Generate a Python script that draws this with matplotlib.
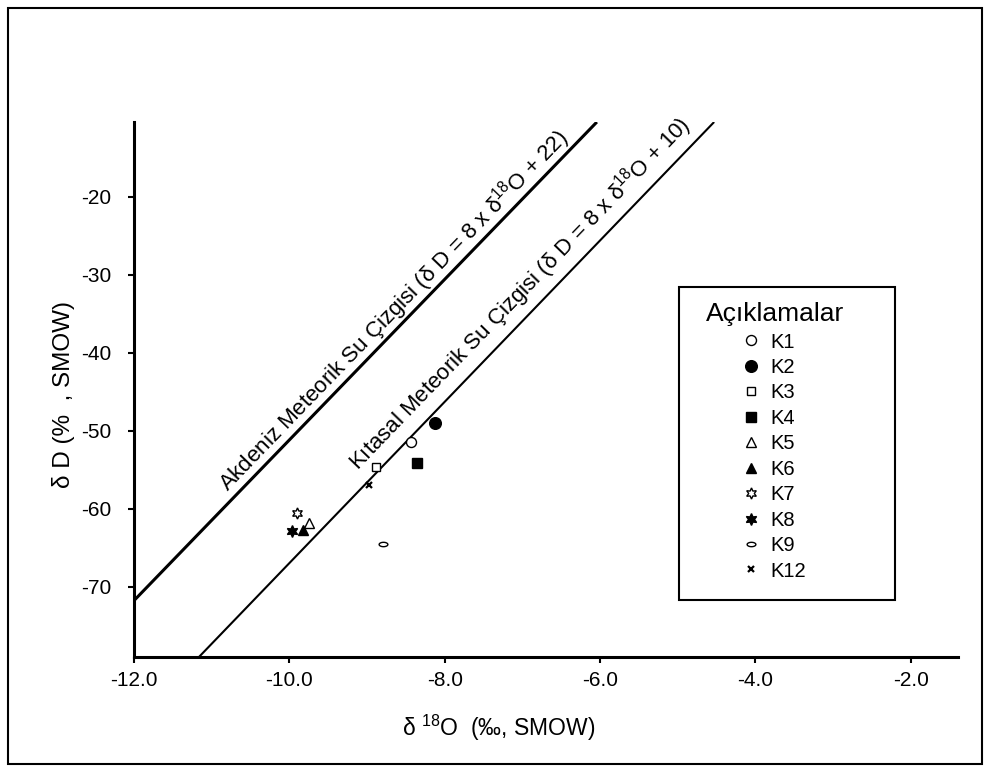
import numpy as np
import matplotlib
from matplotlib import pyplot as plt
from matplotlib.path import Path
from matplotlib.patches import Rectangle

matplotlib.use('Agg')

plt.rcParams['font.family'] = ['Liberation Sans', 'DejaVu Sans']
plt.rcParams['mathtext.fontset'] = 'custom'
plt.rcParams['mathtext.rm'] = 'Liberation Sans'
plt.rcParams['mathtext.it'] = 'Liberation Sans'

# samples: delta 18O and delta D
samples = ['K1', 'K2', 'K3', 'K4', 'K5', 'K6', 'K7', 'K8', 'K9', 'K12']
d18o = [-8.43, -8.12, -8.89, -8.36, -9.75, -9.83, -9.90, -9.97, -8.79, -8.98]
dD = [-51.4, -49.0, -54.6, -54.1, -61.9, -62.7, -60.5, -62.9, -64.6, -57.0]

# meteoric water lines, end points as drawn
akdeniz_x = [-12.0, -6.04]
akdeniz_y = [-71.8, -10.4]
kitasal_x = [-11.16, -4.53]
kitasal_y = [-79.0, -10.4]

x_ticks = [-12.0, -10.0, -8.0, -6.0, -4.0, -2.0]
y_ticks = [-20, -30, -40, -50, -60, -70]

# flat ellipse marker for K9
t = np.linspace(0, 2 * np.pi, 41)
ellipse = Path(np.column_stack([np.cos(t), 0.5 * np.sin(t)]), closed=True)
star6 = (6, 1, 0)

styles = {
    'K1': dict(marker='o', ms=7.2, mfc='white'),
    'K2': dict(marker='o', ms=8.4, mfc='black'),
    'K3': dict(marker='s', ms=6.3, mfc='white'),
    'K4': dict(marker='s', ms=7.0, mfc='black'),
    'K5': dict(marker='^', ms=6.5, mfc='white'),
    'K6': dict(marker='^', ms=6.5, mfc='black'),
    'K7': dict(marker=star6, ms=8.0, mfc='white'),
    'K8': dict(marker=star6, ms=8.5, mfc='black'),
    'K9': dict(marker=ellipse, ms=6.3, mfc='white'),
    'K12': dict(marker='x', ms=4.5, mfc='black'),
}

fig = plt.figure(figsize=(9.9, 7.78), dpi=100)
ax = fig.add_axes([134 / 990, 1 - 656.7 / 778, 824 / 990, 534.7 / 778])

ax.plot(akdeniz_x, akdeniz_y, color='black', lw=2.2, solid_capstyle='butt')
ax.plot(kitasal_x, kitasal_y, color='black', lw=1.5, solid_capstyle='butt')

for name, x, y in zip(samples, d18o, dD):
    st = styles[name]
    mew = 1.6 if name == 'K12' else 1.0
    ax.plot([x], [y], linestyle='none', marker=st['marker'], markersize=st['ms'],
            markerfacecolor=st['mfc'], markeredgecolor='black', markeredgewidth=mew,
            label=name)

ax.set_xlim(-12.0, -1.39)
ax.set_ylim(-79.0, -10.4)
ax.set_xticks(x_ticks)
ax.set_xticklabels([f'{v:.1f}' for v in x_ticks])
ax.set_yticks(y_ticks)
ax.set_yticklabels([str(v) for v in y_ticks])
ax.tick_params(axis='x', direction='out', length=4, width=1.5, pad=6, labelsize=15)
ax.tick_params(axis='y', direction='out', length=4.5, width=1.5, pad=12, labelsize=15)

for side in ['top', 'right']:
    ax.spines[side].set_visible(False)
for side in ['left', 'bottom']:
    ax.spines[side].set_linewidth(2.2)

# line labels, rotated along the lines
ax.text(-8.66, -34.6, 'Akdeniz Meteorik Su Çizgisi (δ D = 8 x δ$^{18}$O + 22)',
        rotation=46, rotation_mode='anchor', ha='center', va='center', fontsize=16)
ax.text(-7.04, -32.4, 'Kıtasal Meteorik Su Çizgisi (δ D = 8 x δ$^{18}$O + 10)',
        rotation=46, rotation_mode='anchor', ha='center', va='center', fontsize=16)

ax.set_xlabel('δ $^{18}$O  (‰, SMOW)', fontsize=16.5)
ax.xaxis.set_label_coords(0.442, -0.105)
ax.set_ylabel('δ D (%  , SMOW)', fontsize=17.5)
ax.yaxis.set_label_coords(-0.072, 0.49)

# legend with a drawn frame
fig.patches.append(Rectangle((679 / 990, 1 - 600 / 778), 216 / 990, 313 / 778,
                             transform=fig.transFigure, fill=False,
                             edgecolor='black', lw=1.5))
leg = ax.legend(title='Açıklamalar', loc='upper center', frameon=False,
                bbox_to_anchor=(775 / 990, 1 - 292 / 778), bbox_transform=fig.transFigure,
                fontsize=14.5, title_fontsize=19, handlelength=0.7,
                handletextpad=0.6, labelspacing=0.32, borderpad=0)

# outer frame
fig.patches.append(Rectangle((8 / 990, 1 - 764 / 778), 974 / 990, 756 / 778,
                             transform=fig.transFigure, fill=False,
                             edgecolor='black', lw=1.5))

fig.savefig('out.png', dpi=100)
